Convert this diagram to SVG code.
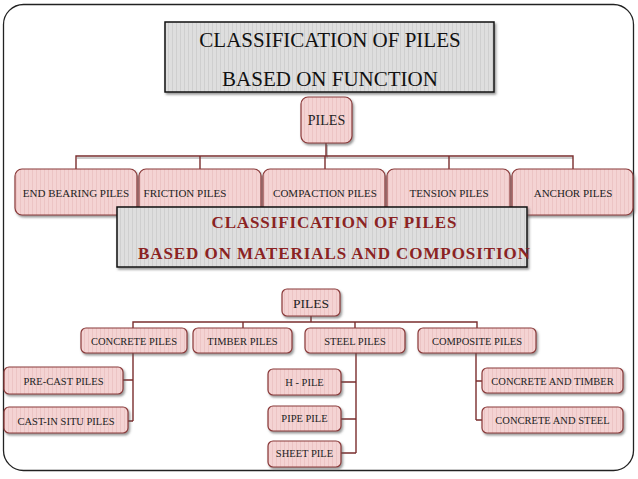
<svg xmlns="http://www.w3.org/2000/svg" width="638" height="479" viewBox="0 0 638 479">
<defs>
<pattern id="pinkStripe" width="4" height="10" patternUnits="userSpaceOnUse">
<rect width="4" height="10" fill="#f4d3d3"/>
<rect x="0" width="1" height="10" fill="#ecc4c4"/>
</pattern>
<pattern id="grayStripe" width="4" height="10" patternUnits="userSpaceOnUse">
<rect width="4" height="10" fill="#dedede"/>
<rect x="0" width="1" height="10" fill="#cfcfcf"/>
</pattern>
<filter id="sh" x="-10%" y="-10%" width="130%" height="140%">
<feDropShadow dx="1.5" dy="2" stdDeviation="1" flood-color="#555" flood-opacity="0.6"/>
</filter>
</defs>
<style>
.frame{fill:#fff;stroke:#222;stroke-width:1.3}
.title{fill:url(#grayStripe);stroke:#111;stroke-width:1.5;filter:url(#sh)}
.node{fill:url(#pinkStripe);stroke:#8a3a3a;stroke-width:1.2;filter:url(#sh)}
.t1{font-family:"Liberation Serif","Times New Roman",serif;font-size:21px;fill:#111;text-anchor:middle}
.t2{font-family:"Liberation Serif","Times New Roman",serif;font-size:17px;font-weight:bold;fill:#8b2323;text-anchor:middle}
.lbl{font-family:"Liberation Serif","Times New Roman",serif;font-size:11px;fill:#222;text-anchor:middle}
.lbl2{font-family:"Liberation Serif","Times New Roman",serif;font-size:10.5px;fill:#222;text-anchor:middle}
.pl{font-family:"Liberation Serif","Times New Roman",serif;font-size:14px;fill:#222;text-anchor:middle}
.conn{fill:none;stroke:#7a2e2e;stroke-width:1.4}
.connsh{fill:none;stroke:#999;stroke-width:1.2}
</style>
<rect class="frame" x="3.5" y="4.5" width="630" height="466" rx="20"/>

<g id="connectors">
<path class="connsh" d="M77 158H573 M327 145V158"/>
<path class="conn" d="M326 143V156 M76 170V156H573V170 M200 156V170 M325 156V170 M449 156V170"/>
<path class="conn" d="M311 316V322 M133 328V322H477V328 M243 322V328 M355 322V328"/>
<path class="conn" d="M133 353V421 M123 380H133 M128 421H133"/>
<path class="conn" d="M356 353V453 M341 382H356 M341 419H356 M341 453H356"/>
<path class="conn" d="M476 353V420 M476 381H482 M476 420H482"/>
</g>

<g id="title-function">
<rect class="title" x="165" y="22" width="329" height="70"/>
<text class="t1" x="330" y="47">CLASSIFICATION OF PILES</text>
<text class="t1" x="330" y="86">BASED ON FUNCTION</text>
</g>

<g id="piles-top">
<rect class="node" x="301" y="97" width="51" height="46" rx="7"/>
<text class="pl" x="326.5" y="125">PILES</text>
</g>

<g id="end-bearing">
<rect class="node" x="15" y="169" width="122" height="46" rx="7"/>
<text class="lbl" x="76" y="197">END BEARING PILES</text>
</g>
<g id="friction">
<rect class="node" x="139" y="169" width="122" height="46" rx="7"/>
<text class="lbl" x="185" y="197">FRICTION PILES</text>
</g>
<g id="compaction">
<rect class="node" x="263" y="169" width="122" height="46" rx="7"/>
<text class="lbl" x="325" y="197">COMPACTION PILES</text>
</g>
<g id="tension">
<rect class="node" x="387" y="169" width="123" height="46" rx="7"/>
<text class="lbl" x="449" y="197">TENSION PILES</text>
</g>
<g id="anchor">
<rect class="node" x="512" y="169" width="121" height="46" rx="7"/>
<text class="lbl" x="573" y="197">ANCHOR PILES</text>
</g>

<g id="title-materials">
<rect class="title" x="117" y="207" width="410" height="60"/>
<text class="t2" x="334" y="228" textLength="245" lengthAdjust="spacing">CLASSIFICATION OF PILES</text>
<text class="t2" x="334" y="259" textLength="392" lengthAdjust="spacing">BASED ON MATERIALS AND COMPOSITION</text>
</g>

<g id="piles-bottom">
<rect class="node" x="282" y="289" width="58" height="27" rx="5"/>
<text class="pl" x="311" y="308" style="font-size:13.5px">PILES</text>
</g>
<g id="concrete">
<rect class="node" x="81" y="328" width="106" height="25" rx="5"/>
<text class="lbl2" x="134" y="345">CONCRETE PILES</text>
</g>
<g id="timber">
<rect class="node" x="193" y="328" width="99" height="25" rx="5"/>
<text class="lbl2" x="242.5" y="345">TIMBER PILES</text>
</g>
<g id="steel">
<rect class="node" x="305" y="328" width="100" height="25" rx="5"/>
<text class="lbl2" x="355" y="345">STEEL PILES</text>
</g>
<g id="composite">
<rect class="node" x="418" y="328" width="118" height="25" rx="5"/>
<text class="lbl2" x="477" y="345">COMPOSITE PILES</text>
</g>

<g id="precast">
<rect class="node" x="4" y="367" width="119" height="27" rx="5"/>
<text class="lbl2" x="63.5" y="385">PRE-CAST PILES</text>
</g>
<g id="castinsitu">
<rect class="node" x="4" y="407" width="124" height="26" rx="5"/>
<text class="lbl2" x="66" y="425">CAST-IN SITU PILES</text>
</g>
<g id="hpile">
<rect class="node" x="268" y="369" width="73" height="26" rx="5"/>
<text class="lbl2" x="304.5" y="386">H - PILE</text>
</g>
<g id="pipepile">
<rect class="node" x="268" y="406" width="73" height="25" rx="5"/>
<text class="lbl2" x="304.5" y="422">PIPE PILE</text>
</g>
<g id="sheetpile">
<rect class="node" x="268" y="441" width="73" height="26" rx="5"/>
<text class="lbl2" x="304.5" y="457">SHEET PILE</text>
</g>
<g id="concrete-timber">
<rect class="node" x="482" y="368" width="141" height="25" rx="5"/>
<text class="lbl2" x="552.5" y="385">CONCRETE AND TIMBER</text>
</g>
<g id="concrete-steel">
<rect class="node" x="482" y="407" width="141" height="26" rx="5"/>
<text class="lbl2" x="552.5" y="424">CONCRETE AND STEEL</text>
</g>
</svg>
